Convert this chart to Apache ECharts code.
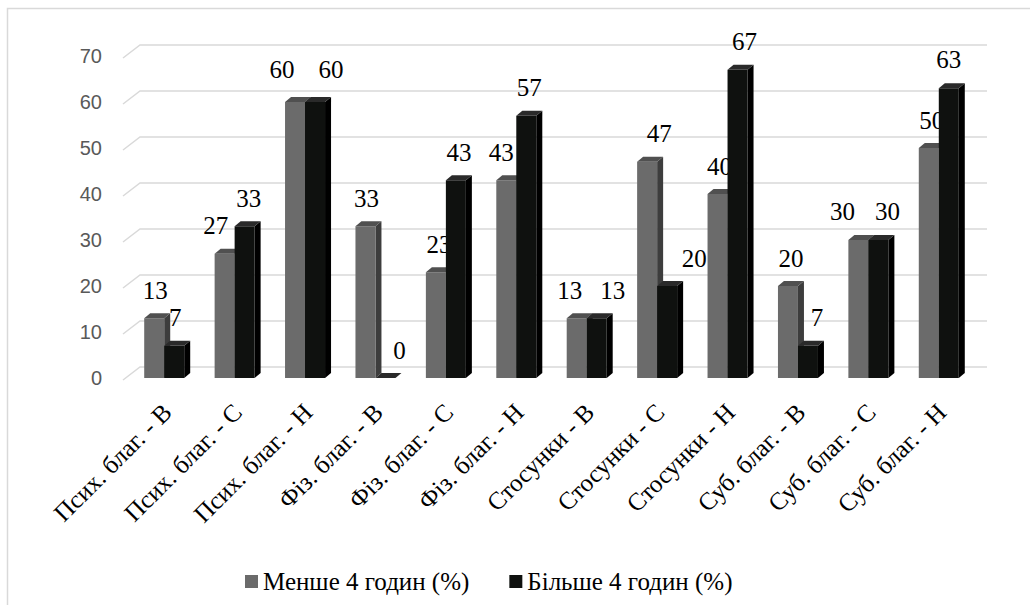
<!DOCTYPE html>
<html>
<head>
<meta charset="utf-8">
<script src="https://cdn.jsdelivr.net/npm/echarts@6/dist/echarts.min.js"></script>
<style>
html,body{margin:0;padding:0;background:#fff;}
#main{width:1030px;height:605px;}
</style>
</head>
<body>
<div id="main"></div>
<script>
var categories = ['Псих. благ. - В','Псих. благ. - С','Псих. благ. - Н','Фіз. благ. - В','Фіз. благ. - С','Фіз. благ. - Н','Стосунки - В','Стосунки - С','Стосунки - Н','Суб. благ. - В','Суб. благ. - С','Суб. благ. - Н'];
var seriesNames = ['Менше 4 годин (%)','Більше 4 годин (%)'];
var lessThan4 = [13,27,60,33,23,43,13,47,40,20,30,50];
var moreThan4 = [7,33,60,0,43,57,13,20,67,7,30,63];
var yTicks = [0,10,20,30,40,50,60,70];

// data-label nudges (pixels, relative to the default spot above each bar), as placed in the original
var labelNudgeX = [
  [0,-10,-14,0,2,-6,-8,11,1,2,-17,2],
  [0,3,15,13,2,2,15,26,6,8,8,-1]
];
var labelNudgeY = [
  [0,0,-5,0,0,0,0,0,0,0,-1,0],
  [0,0,-5,0,0,0,0,0,0,0,-1,-1]
];

var SERIF = 'Liberation Serif';
var chart = echarts.init(document.getElementById('main'), null, {renderer:'svg'});

var DX = 6, DY = -5;
var palettes = [
  {front:'#6b6b6b', side:'#3d3d3d', top:'#505050'},
  {front:'#0f110f', side:'#000000', top:'#2a2a2a'}
];
function barRender(s){
  return function(params, api){
    var idx = api.value(0), val = api.value(1);
    var top = api.coord([idx, val]);
    var bot = api.coord([idx, 0]);
    var c = top[0];
    var x1 = s === 0 ? c - 23 : c - 3;
    var x2 = x1 + 20;
    var yT = top[1], yB = bot[1];
    var p = palettes[s];
    return {
      type:'group',
      children:[
        {type:'polygon', shape:{points:[[x2,yT],[x2+DX,yT+DY],[x2+DX,yB+DY],[x2,yB]]}, style:{fill:p.side}},
        {type:'rect', shape:{x:x1, y:yT, width:20, height:yB-yT}, style:{fill:p.front}},
        {type:'polygon', shape:{points:[[x1,yT],[x2,yT],[x2+DX,yT+DY],[x1+DX,yT+DY]]}, style:{fill:p.top}},
        {type:'text', x:(x1+x2)/2+1+labelNudgeX[s][idx], y:yT-28+labelNudgeY[s][idx], z2:10,
         style:{text:String(val), fill:'#000', fontFamily:SERIF, fontSize:25, align:'center', verticalAlign:'middle'}}
      ]
    };
  };
}

var option = {
  backgroundColor:'#fff',
  animation:false,
  textStyle:{fontFamily:SERIF},
  graphic:[{type:'rect', shape:{x:7.5, y:8.5, width:1100, height:700}, style:{fill:'none', stroke:'#d9d9d9', lineWidth:1.5}, silent:true}],
  legend:{
    left:240, top:564, itemWidth:13, itemHeight:13, itemGap:40, icon:'rect',
    textStyle:{fontFamily:SERIF, fontSize:25, color:'#000'},
    data:seriesNames
  },
  grid:[
    {left:132, top:56, width:845, height:322},
    {left:140, top:45, width:847, height:322}
  ],
  xAxis:[
    {type:'category', gridIndex:0, data:categories, boundaryGap:true,
     axisLine:{show:false}, axisTick:{show:false},
     axisLabel:{rotate:45, margin:30, interval:0, fontFamily:SERIF, fontSize:25, color:'#000'}},
    {type:'category', gridIndex:1, data:categories, show:false}
  ],
  yAxis:[
    {type:'value', gridIndex:0, min:yTicks[0], max:yTicks[yTicks.length-1], interval:10,
     splitLine:{show:false}, axisLine:{show:false}, axisTick:{show:false},
     axisLabel:{margin:30, fontFamily:'Liberation Sans', fontSize:20, color:'#595959'}},
    {type:'value', gridIndex:1, min:yTicks[0], max:yTicks[yTicks.length-1], interval:10, show:false, splitLine:{show:false}}
  ],
  series:[
    {type:'custom', name:'grid', xAxisIndex:1, yAxisIndex:1, silent:true, z:1,
     data:yTicks.map(function(v){return [0, v];}),
     renderItem:function(params, api){
       var y = api.coord([0, api.value(1)])[1];
       var cs = params.coordSys;
       return {type:'polyline', shape:{points:[[cs.x-17, y+13],[cs.x, y],[cs.x+cs.width, y]]}, style:{stroke:'#d9d9d9', lineWidth:1.5, fill:'none'}};
     }},
    {type:'custom', name:seriesNames[0], xAxisIndex:0, yAxisIndex:0, z:2,
     itemStyle:{color:'#6b6b6b'},
     data:lessThan4.map(function(v,i){return [i, v];}),
     renderItem:barRender(0)},
    {type:'custom', name:seriesNames[1], xAxisIndex:0, yAxisIndex:0, z:3,
     itemStyle:{color:'#0f110f'},
     data:moreThan4.map(function(v,i){return [i, v];}),
     renderItem:barRender(1)}
  ]
};
chart.setOption(option);
</script>
</body>
</html>
